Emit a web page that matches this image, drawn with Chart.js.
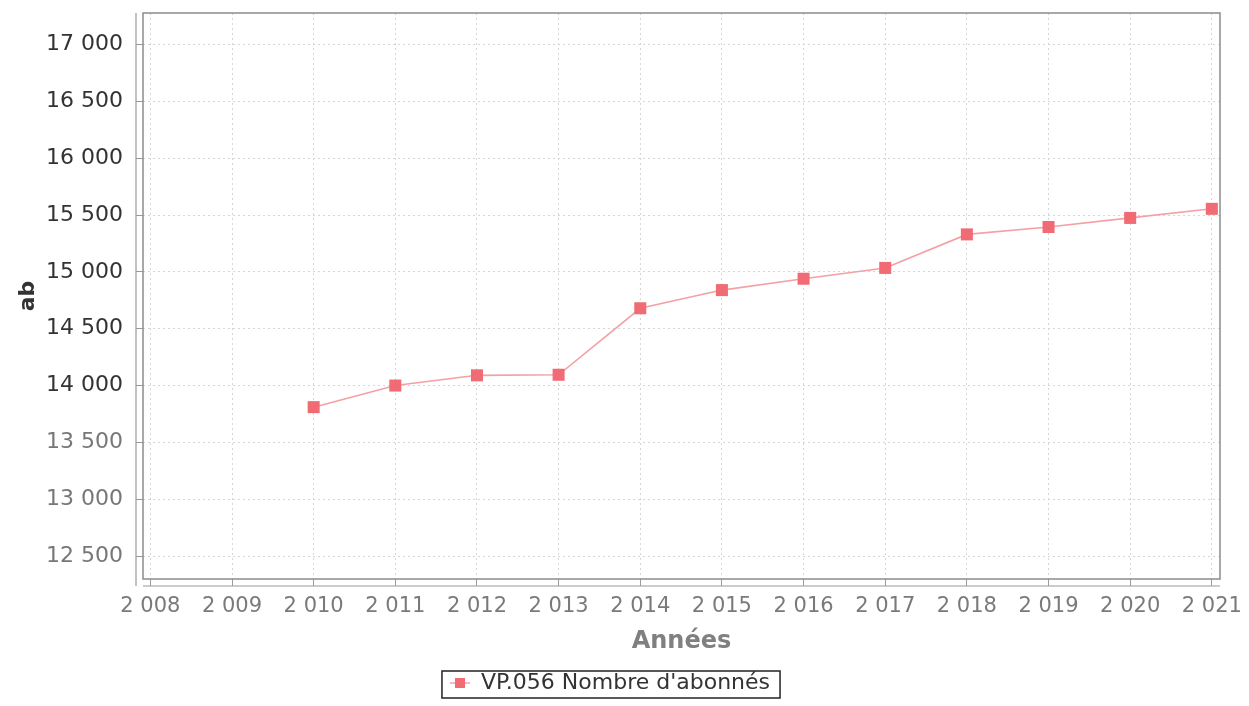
<!DOCTYPE html>
<html lang="fr">
<head>
<meta charset="utf-8">
<title>VP.056 Nombre d'abonnés</title>
<script src="https://cdn.jsdelivr.net/npm/chart.js@4/dist/chart.umd.min.js"></script>
<style>
  html, body { margin:0; padding:0; background:#fff; }
  #wrap { width:1249px; height:706px; }
</style>
</head>
<body>
<div id="wrap"><canvas id="c-abonnes" width="1249" height="706"></canvas></div>
<script>
/* ── Data ─────────────────────────────────────────────────── */
const YEARS       = [2010, 2011, 2012, 2013, 2014, 2015, 2016, 2017, 2018, 2019, 2020, 2021];
const SUBSCRIBERS = [13810, 14000, 14090, 14095, 14680, 14840, 14940, 15035, 15330, 15395, 15475, 15555];
const X_TICKS     = [2008, 2009, 2010, 2011, 2012, 2013, 2014, 2015, 2016, 2017, 2018, 2019, 2020, 2021];
const Y_TICKS     = [12500, 13000, 13500, 14000, 14500, 15000, 15500, 16000, 16500, 17000];
const SERIES_NAME = "VP.056 Nombre d'abonnés";

const LINE_COL  = "#f4a0a5";
const POINT_COL = "#f06b73";
const FONT      = "'DejaVu Sans', Verdana, sans-serif";
const PAD_BOTTOM = 2;
const PLOT_BOTTOM = 579;

// "17 000", "2 008" — space as thousands separator
const fmt = v => String(Math.round(v)).replace(/\B(?=(\d{3})+(?!\d))/g, " ");

// legend marker: short line with a square in the middle
function legendMarker() {
  const cv = document.createElement("canvas");
  cv.width = 20; cv.height = 12;
  const g = cv.getContext("2d");
  g.strokeStyle = LINE_COL; g.lineWidth = 1.5;
  g.beginPath(); g.moveTo(0, 6); g.lineTo(20, 6); g.stroke();
  g.fillStyle = POINT_COL;
  g.fillRect(5, 1, 10, 10);
  return cv;
}

/* ── Plot frame, offset axis lines, legend box ────────────── */
const plotFrame = {
  id: "plotFrame",
  beforeDatasetsDraw(chart) {
    const { ctx, chartArea: a } = chart;
    ctx.save();
    ctx.strokeStyle = "#8c8c8c";
    ctx.lineWidth = 1.5;
    ctx.strokeRect(a.left, a.top, a.right - a.left, a.bottom - a.top);
    ctx.strokeStyle = "#9a9a9a";
    ctx.lineWidth = 1.2;
    ctx.beginPath();
    ctx.moveTo(a.left - 7, a.top); ctx.lineTo(a.left - 7, a.bottom + 7);
    ctx.moveTo(a.left, a.bottom + 7); ctx.lineTo(a.right, a.bottom + 7);
    ctx.stroke();
    ctx.restore();
  },
  afterDraw(chart) {
    const hb = chart.legend && chart.legend.legendHitBoxes && chart.legend.legendHitBoxes[0];
    if (!hb) return;
    const { ctx } = chart;
    ctx.save();
    ctx.strokeStyle = "#222";
    ctx.lineWidth = 1.5;
    ctx.strokeRect(hb.left - 8, hb.top - 1, hb.width + 18, hb.height + 5);
    ctx.restore();
  },
};

const tickList = arr => scale => { scale.ticks = arr.map(v => ({ value: v })); };
const noEdgePad = s => { s.paddingTop = 0; s.paddingBottom = 0; s.paddingLeft = 0; s.paddingRight = 0; };
const gridOpts = { color: "#d6d6d6", tickLength: 7, tickColor: "#9a9a9a", tickBorderDash: [] };

new Chart(document.getElementById("c-abonnes"), {
  type: "line",
  data: {
    datasets: [{
      label: SERIES_NAME,
      data: YEARS.map((yr, i) => ({ x: yr, y: SUBSCRIBERS[i] })),
      borderColor: LINE_COL,
      borderWidth: 1.6,
      backgroundColor: POINT_COL,
      pointStyle: "rect",
      pointRadius: 8.5,
      pointBorderWidth: 0,
      pointBackgroundColor: POINT_COL,
      tension: 0,
    }],
  },
  options: {
    responsive: false,
    animation: false,
    layout: { padding: { top: 13, right: 29, left: 0, bottom: PAD_BOTTOM } },
    plugins: {
      tooltip: { enabled: false },
      legend: {
        position: "bottom",
        labels: {
          usePointStyle: true,
          pointStyle: legendMarker(),
          pointStyleWidth: 20,
          color: "#333",
          font: { family: FONT, size: 22 },
          padding: 4,
        },
      },
    },
    scales: {
      x: {
        type: "linear",
        min: 2007.91,
        max: 2021.1,
        afterBuildTicks: tickList(X_TICKS),
        afterFit: s => { noEdgePad(s); s.height = s.chart.height - PAD_BOTTOM - s.chart.legend.height - PLOT_BOTTOM; },
        border: { display: false, dash: [2, 3] },
        grid: gridOpts,
        ticks: { color: "#7a7a7a", font: { family: FONT, size: 21 }, padding: 8, maxRotation: 0, autoSkip: false, callback: v => fmt(v) },
        title: { display: true, text: "Années", color: "#808080", font: { family: FONT, size: 24, weight: "bold" }, padding: { top: 0, bottom: 12 } },
      },
      y: {
        min: 12298,
        max: 17278,
        afterBuildTicks: tickList(Y_TICKS),
        afterFit: s => { noEdgePad(s); s.width = 143; },
        border: { display: false, dash: [2, 3] },
        grid: gridOpts,
        ticks: {
          color: c => (c.tick && c.tick.value >= 14000 ? "#333" : "#777"),
          font: { family: FONT, size: 22 }, padding: 13, autoSkip: false, callback: v => fmt(v),
        },
        title: { display: true, text: "ab", color: "#333", font: { family: FONT, size: 22, weight: "bold" }, padding: { top: 15, bottom: 4 } },
      },
    },
  },
  plugins: [plotFrame],
});
</script>
</body>
</html>
